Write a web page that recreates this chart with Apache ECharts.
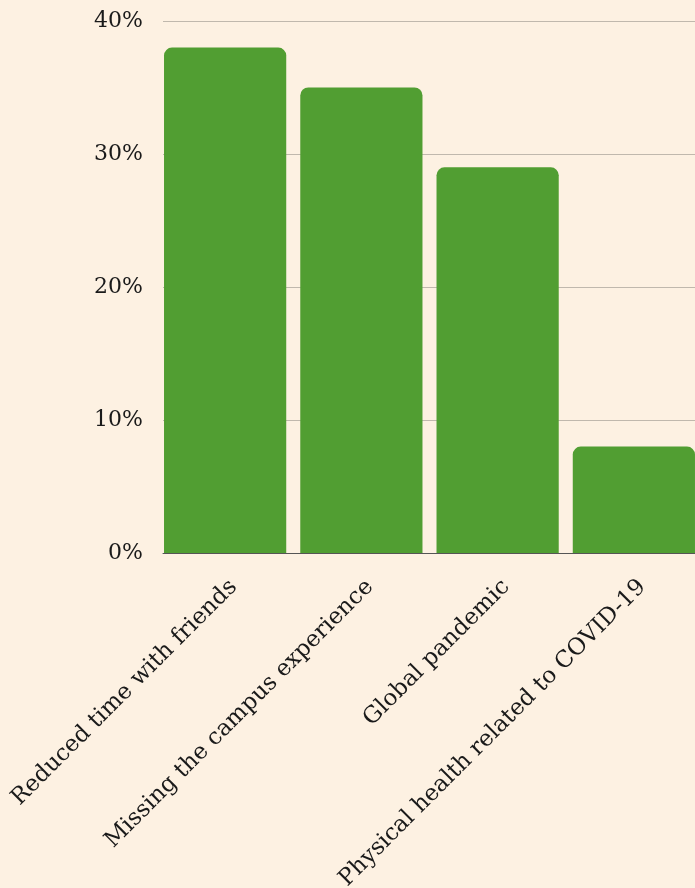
<!DOCTYPE html>
<html>
<head>
<meta charset="utf-8">
<script src="https://cdn.jsdelivr.net/npm/echarts@6/dist/echarts.min.js"></script>
<style>
  html, body { margin: 0; padding: 0; background: #fdf1e2; }
  #chart { width: 695px; height: 888px; }
</style>
</head>
<body>
<div id="chart"></div>
<script>
const categories = [
  'Reduced time with friends',
  'Missing the campus experience',
  'Global pandemic',
  'Physical health related to COVID-19'
];
const shares = [38, 35, 29, 8];
const tickValues = [0, 10, 20, 30, 40];

const chart = echarts.init(document.getElementById('chart'));
chart.setOption({
  backgroundColor: '#fdf1e2',
  textStyle: { fontFamily: 'DejaVu Serif' },
  // grid 0: bars, flush to the plot edges; grid 1: y labels, gridlines, baseline
  grid: [
    { left: 157, right: -7, top: 21, bottom: 335, outerBoundsMode: 'none' },
    { left: 163, right: 0, top: 21, bottom: 335, outerBoundsMode: 'none' }
  ],
  xAxis: [{
    type: 'category',
    gridIndex: 0,
    data: categories,
    axisLine: { show: false },
    axisTick: { show: false },
    axisLabel: {
      rotate: 45,
      interval: 0,
      margin: 22,
      color: '#1a1a1a',
      fontSize: 23,
      lineHeight: 24,
      verticalAlign: 'top',
      fontFamily: 'DejaVu Serif'
    }
  }, {
    type: 'value',
    gridIndex: 1,
    min: 0,
    max: 1,
    axisLine: { show: true, onZero: false, lineStyle: { color: '#555', width: 1 } },
    axisTick: { show: false },
    axisLabel: { show: false },
    splitLine: { show: false }
  }],
  yAxis: [{
    type: 'value',
    gridIndex: 0,
    min: tickValues[0],
    max: tickValues[tickValues.length - 1],
    interval: 10,
    show: false
  }, {
    type: 'value',
    gridIndex: 1,
    min: tickValues[0],
    max: tickValues[tickValues.length - 1],
    interval: 10,
    axisLine: { show: false },
    axisTick: { show: false },
    splitLine: { lineStyle: { color: '#c0b8ad', width: 1 } },
    axisLabel: {
      formatter: '{value}%',
      color: '#1a1a1a',
      fontSize: 22,
      margin: 20,
      fontFamily: 'DejaVu Serif'
    }
  }],
  series: [{
    type: 'bar',
    xAxisIndex: 0,
    yAxisIndex: 0,
    data: shares,
    barCategoryGap: '10.3%',
    z: 3,
    itemStyle: { color: '#519e32', borderRadius: [8, 8, 0, 0] }
  }]
});
</script>
</body>
</html>
